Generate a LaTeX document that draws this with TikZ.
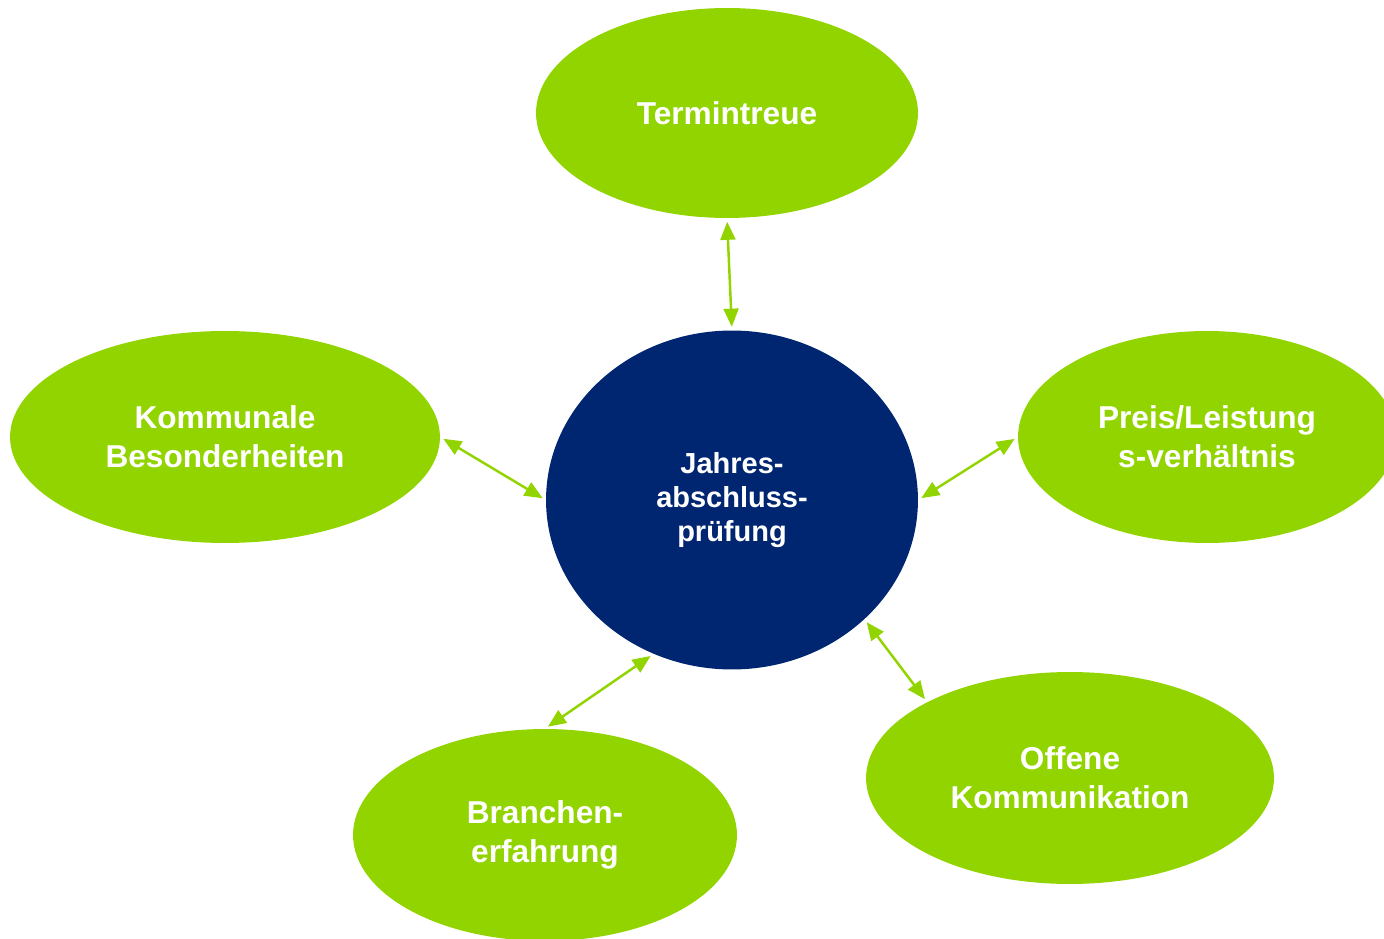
\documentclass[tikz,border=0pt]{standalone}
\usepackage{fontspec}
\setmainfont{Liberation Sans}
\usetikzlibrary{positioning}
\usetikzlibrary{shapes.geometric}
\usetikzlibrary{arrows.meta}
\definecolor{jgreen}{HTML}{92D400}
\definecolor{jnavy}{HTML}{002672}

\begin{document}
\begin{tikzpicture}[x=0.02cm, y=-0.02cm, align=center, text=white, font=\bfseries\fontsize{18}{22}\selectfont,
        aspect/.style={ellipse, fill=jgreen, inner sep=0pt, minimum height=4.24cm},
        arrow/.style={{Triangle[length=0.36cm, width=0.3cm]}-{Triangle[length=0.36cm, width=0.3cm]}, draw=jgreen, fill=jgreen, line width=1.4pt, shorten >=2pt, shorten <=2pt}]
        \useasboundingbox (0,0) rectangle (1384,939);
        \node[ellipse, fill=jnavy, inner sep=0pt, minimum width=7.44cm, minimum height=6.78cm, font=\bfseries\fontsize{16.5}{19.5}\selectfont] (jap) at (732,500) {\raisebox{-3pt}{}Jahres-\\abschluss-\\prüfung};
        \node[aspect, minimum width=7.64cm, minimum height=4.2cm] (term) at (727,113) {Termintreue};
        \node[aspect, minimum width=8.6cm] (komm) at (225,437) {Kommunale\\Besonderheiten};
        \node[aspect, minimum width=7.56cm] (preis) at (1207,437) {Preis/Leistung\\s-verhältnis};
        \node[aspect, minimum width=8.16cm] (offen) at (1070,778) {Offene\\Kommunikation};
        \node[aspect, minimum width=7.68cm] (branche) at (545,835) {Branchen-\\erfahrung};

        \draw[arrow] (term.south) -- (jap.north);
        \draw[arrow] (komm.east) -- (jap.west);
        \draw[arrow] (preis.west) -- (jap.east);
        \draw[arrow] (jap.-42) -- (offen.152);
        \draw[arrow] (jap.243) -- (branche.north);
    \end{tikzpicture}
\end{document}
